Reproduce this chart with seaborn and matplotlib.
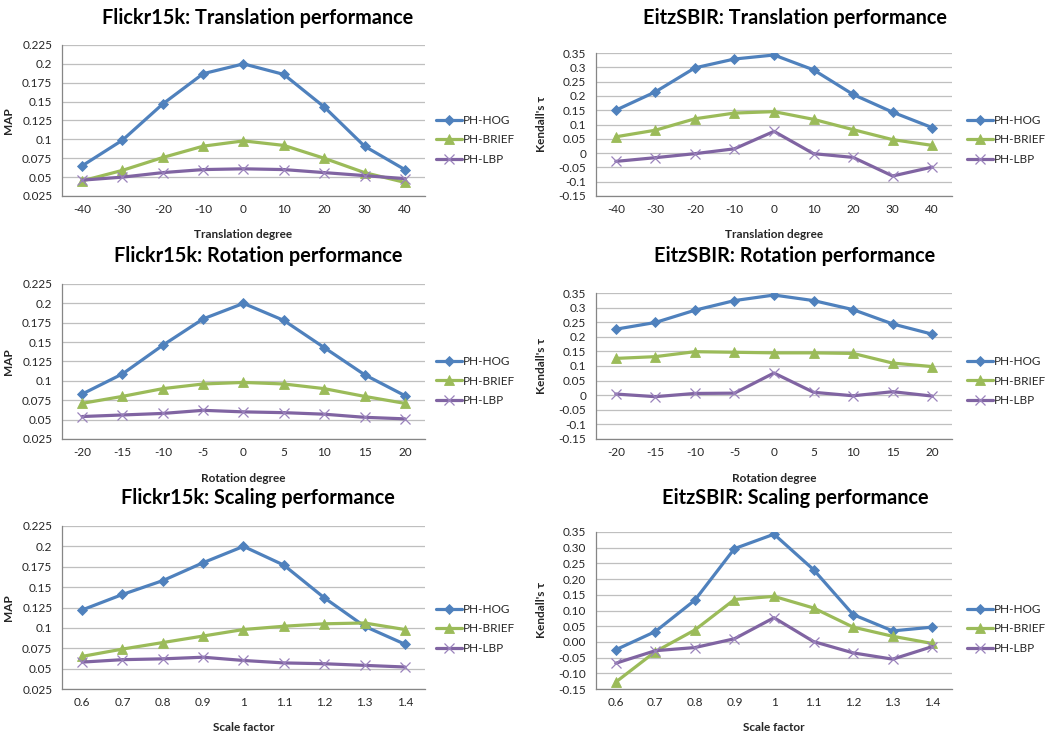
import matplotlib
matplotlib.use("Agg")
import matplotlib.pyplot as plt
import pandas as pd
import seaborn as sns

sns.set_theme(style="white")
plt.rcParams["font.family"] = ["Lato", "DejaVu Sans"]

W, H = 1055, 731

methods = ["PH-HOG", "PH-BRIEF", "PH-LBP"]
colors = {"PH-HOG": "#4F81BD", "PH-BRIEF": "#9BBB59", "PH-LBP": "#8064A2"}
markers = {"PH-HOG": "D", "PH-BRIEF": "^", "PH-LBP": "x"}
msizes = {"PH-HOG": 5.5, "PH-BRIEF": 7.5, "PH-LBP": 6.5}

translation_labels = ["-40", "-30", "-20", "-10", "0", "10", "20", "30", "40"]
rotation_labels = ["-20", "-15", "-10", "-5", "0", "5", "10", "15", "20"]
scale_labels = ["0.6", "0.7", "0.8", "0.9", "1", "1.1", "1.2", "1.3", "1.4"]

# Flickr15k (MAP)
flickr_translation_hog = [0.065, 0.099, 0.147, 0.187, 0.200, 0.186, 0.143, 0.091, 0.060]
flickr_translation_brief = [0.045, 0.059, 0.076, 0.091, 0.098, 0.092, 0.075, 0.056, 0.043]
flickr_translation_lbp = [0.046, 0.050, 0.056, 0.060, 0.061, 0.060, 0.056, 0.052, 0.048]

flickr_rotation_hog = [0.083, 0.109, 0.146, 0.180, 0.200, 0.178, 0.143, 0.108, 0.081]
flickr_rotation_brief = [0.071, 0.080, 0.090, 0.096, 0.098, 0.096, 0.090, 0.080, 0.071]
flickr_rotation_lbp = [0.054, 0.056, 0.058, 0.062, 0.060, 0.059, 0.057, 0.053, 0.051]

flickr_scale_hog = [0.122, 0.141, 0.158, 0.180, 0.200, 0.177, 0.137, 0.102, 0.080]
flickr_scale_brief = [0.065, 0.074, 0.082, 0.090, 0.098, 0.102, 0.105, 0.106, 0.098]
flickr_scale_lbp = [0.058, 0.061, 0.062, 0.064, 0.060, 0.057, 0.056, 0.054, 0.052]

# EitzSBIR (Kendall's tau)
eitz_translation_hog = [0.150, 0.214, 0.298, 0.329, 0.343, 0.291, 0.205, 0.143, 0.089]
eitz_translation_brief = [0.057, 0.080, 0.120, 0.140, 0.145, 0.118, 0.082, 0.047, 0.027]
eitz_translation_lbp = [-0.029, -0.016, -0.002, 0.015, 0.076, -0.002, -0.015, -0.080, -0.049]

eitz_rotation_hog = [0.226, 0.249, 0.291, 0.324, 0.343, 0.324, 0.293, 0.244, 0.209]
eitz_rotation_brief = [0.126, 0.132, 0.149, 0.147, 0.145, 0.145, 0.143, 0.110, 0.098]
eitz_rotation_lbp = [0.004, -0.005, 0.006, 0.007, 0.076, 0.010, -0.002, 0.012, -0.003]

eitz_scale_hog = [-0.025, 0.033, 0.133, 0.297, 0.343, 0.230, 0.087, 0.035, 0.047]
eitz_scale_brief = [-0.128, -0.031, 0.038, 0.135, 0.145, 0.108, 0.047, 0.018, -0.005]
eitz_scale_lbp = [-0.068, -0.028, -0.018, 0.010, 0.077, 0.001, -0.035, -0.055, -0.015]

map_ticks = [0.025, 0.05, 0.075, 0.1, 0.125, 0.15, 0.175, 0.2, 0.225]
map_ticklabels = ["0.025", "0.05", "0.075", "0.1", "0.125", "0.15", "0.175", "0.2", "0.225"]
tau_ticks = [-0.15, -0.1, -0.05, 0.0, 0.05, 0.1, 0.15, 0.2, 0.25, 0.3, 0.35]
tau_ticklabels = ["-0.15", "-0.1", "-0.05", "0", "0.05", "0.1", "0.15", "0.2", "0.25", "0.3", "0.35"]
tau_ticklabels_2dp = ["-0.15", "-0.10", "-0.05", "0.00", "0.05", "0.10", "0.15", "0.20",
                      "0.25", "0.30", "0.35"]

panels = [
    # title, xlabel, categories, series, metric, ticklabels, axes box (px), title centre,
    # legend centre y, x-label y
    ("Flickr15k: Translation performance", "Translation degree", translation_labels,
     [flickr_translation_hog, flickr_translation_brief, flickr_translation_lbp],
     "map", map_ticklabels, (62, 425, 45, 196), (258, 18), 140, 229),
    ("EitzSBIR: Translation performance", "Translation degree", translation_labels,
     [eitz_translation_hog, eitz_translation_brief, eitz_translation_lbp],
     "tau", tau_ticklabels, (596, 952, 53, 196), (795, 18), 140, 229),
    ("Flickr15k: Rotation performance", "Rotation degree", rotation_labels,
     [flickr_rotation_hog, flickr_rotation_brief, flickr_rotation_lbp],
     "map", map_ticklabels, (62, 425, 284, 439), (258, 256), 381, 473),
    ("EitzSBIR: Rotation performance", "Rotation degree", rotation_labels,
     [eitz_rotation_hog, eitz_rotation_brief, eitz_rotation_lbp],
     "tau", tau_ticklabels, (596, 952, 293, 439), (795, 256), 381, 473),
    ("Flickr15k: Scaling performance", "Scale factor", scale_labels,
     [flickr_scale_hog, flickr_scale_brief, flickr_scale_lbp],
     "map", map_ticklabels, (62, 425, 526, 689), (258, 498), 629, 722),
    ("EitzSBIR: Scaling performance", "Scale factor", scale_labels,
     [eitz_scale_hog, eitz_scale_brief, eitz_scale_lbp],
     "tau", tau_ticklabels_2dp, (596, 952, 532, 689), (795, 498), 629, 722),
]

fig = plt.figure(figsize=(W / 100, H / 100), dpi=100)
fig.patch.set_facecolor("white")

grid_color = "#BFBFBF"
axis_color = "#868686"
tick_fs = 8.5

for title, xlabel, cats, series, metric, yticklabels, box, tpos, leg_y, xl_y in panels:
    x0, x1, ytop, ybot = box
    ax = fig.add_axes([x0 / W, 1 - ybot / H, (x1 - x0) / W, (ybot - ytop) / H])
    rows = []
    for m, vals in zip(methods, series):
        for i, (c, v) in enumerate(zip(cats, vals)):
            rows.append({"pos": i, "category": c, "method": m, "value": v})
    df = pd.DataFrame(rows)
    for m in methods:
        sub = df[df["method"] == m]
        sns.lineplot(data=sub, x="pos", y="value", ax=ax, color=colors[m], lw=2.3,
                     marker=markers[m], markersize=msizes[m],
                     markeredgewidth=0.9 if m == "PH-LBP" else 0.6,
                     markeredgecolor="#9A82BC" if m == "PH-LBP" else colors[m],
                     label=m, zorder=3)

    ax.set_xlim(-0.5, len(cats) - 0.5)
    ax.set_xticks(range(len(cats)))
    ax.set_xticklabels(cats, fontsize=tick_fs)
    ax.set_xticks([i - 0.5 for i in range(len(cats) + 1)], minor=True)
    ax.tick_params(axis="x", which="major", length=0, pad=6)
    ax.tick_params(axis="x", which="minor", length=4, width=0.8, color=axis_color,
                   direction="out")
    if metric == "map":
        ticks = map_ticks
        ax.set_ylim(0.025, 0.225)
    else:
        ticks = tau_ticks
        ax.set_ylim(-0.15, 0.35)
    ax.set_yticks(ticks)
    ax.set_yticklabels(yticklabels, fontsize=tick_fs)
    ax.tick_params(axis="y", length=4, width=0.8, color=axis_color, direction="out", pad=3)
    ax.yaxis.grid(True, color=grid_color, lw=0.9)
    ax.set_axisbelow(True)
    for side in ("top", "right"):
        ax.spines[side].set_visible(False)
    for side in ("left", "bottom"):
        ax.spines[side].set_color(axis_color)
        ax.spines[side].set_linewidth(0.9)

    ax.set_xlabel(xlabel, fontsize=8.5, fontweight="bold")
    ax.xaxis.set_label_coords((x0 + x1) / 2 / W, 1 - xl_y / H, transform=fig.transFigure)
    ylabel = "MAP" if metric == "map" else "Kendall's τ"
    ax.set_ylabel(ylabel, fontsize=8.5, fontweight="bold")
    ylx = 14 if metric == "map" else 547
    ax.yaxis.set_label_coords(ylx / W, 1 - (ytop + ybot) / 2 / H, transform=fig.transFigure)

    fig.text(tpos[0] / W, 1 - tpos[1] / H, title, ha="center", va="center",
             fontsize=14.3, fontweight="bold", color="black")

    leg_x = 436 if metric == "map" else 967
    ax.legend(loc="center left", bbox_to_anchor=(leg_x / W, 1 - leg_y / H),
              bbox_transform=fig.transFigure, frameon=False, fontsize=8.5,
              handlelength=2.2, handletextpad=0.1, labelspacing=0.75, borderpad=0,
              borderaxespad=0)

fig.savefig("out.png", dpi=100, facecolor="white")
